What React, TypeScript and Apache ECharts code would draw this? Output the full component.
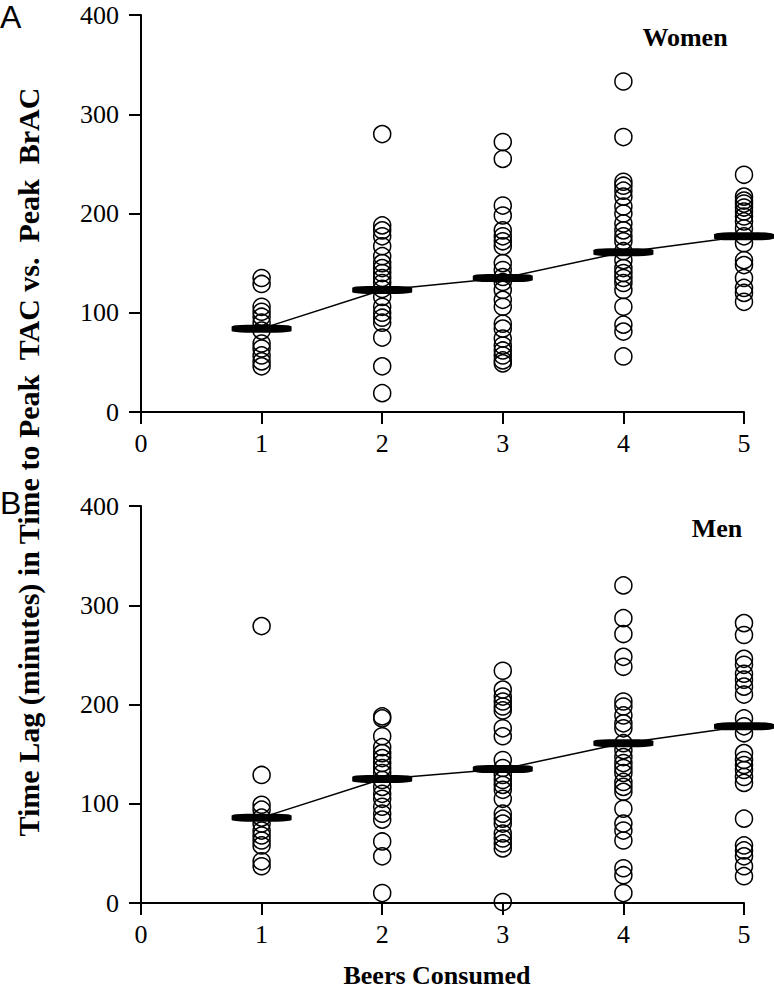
import React, { useEffect, useRef } from "react";
import * as echarts from "echarts";

const beerTicks = [0, 1, 2, 3, 4, 5];
const yTicks = [0, 100, 200, 300, 400];

// Women (panel A)
const women1 = [135, 129, 106, 101, 96, 90, 82, 69, 64, 57, 51, 46];
const women2 = [280, 188, 183, 177, 167, 157, 150, 145, 140, 135, 130, 124, 116, 106, 100, 95, 90, 75, 46, 19];
const women3 = [272, 255, 208, 198, 183, 177, 172, 167, 150, 143, 136, 131, 123, 113, 106, 89, 84, 74, 67, 62, 57, 52, 49];
const women4 = [333, 277, 232, 228, 223, 217, 207, 200, 190, 183, 177, 172, 162, 153, 145, 140, 135, 130, 123, 106, 88, 81, 56];
const women5 = [239, 217, 213, 210, 206, 202, 197, 192, 185, 177, 170, 153, 148, 135, 125, 120, 111];
const womenMeans = [84, 123, 135, 161, 177];

// Men (panel B)
const men1 = [279, 129, 99, 94, 86, 80, 73, 68, 63, 58, 42, 37];
const men2 = [188, 186, 168, 157, 151, 146, 141, 136, 131, 124, 117, 110, 105, 97, 90, 84, 62, 47, 10];
const men3 = [234, 215, 208, 203, 198, 194, 176, 168, 144, 136, 129, 124, 119, 114, 105, 90, 85, 80, 70, 65, 60, 55, 1];
const men4 = [320, 287, 271, 248, 238, 203, 198, 189, 181, 176, 161, 154, 147, 141, 136, 131, 122, 117, 112, 95, 80, 73, 63, 35, 28, 10];
const men5 = [282, 270, 246, 240, 231, 225, 218, 210, 186, 178, 171, 151, 144, 139, 134, 127, 121, 85, 58, 53, 47, 37, 27];
const menMeans = [86, 125, 135, 161, 178];

const womenGroups = [women1, women2, women3, women4, women5];
const menGroups = [men1, men2, men3, men4, men5];

const SERIF = "Liberation Serif";
const SANS = "Liberation Sans";

function toPoints(groups: number[][]) {
  const pts: number[][] = [];
  groups.forEach((g, i) => g.forEach((v) => pts.push([i + 1, v])));
  return pts;
}

function meanPoints(means: number[]) {
  return means.map((m, i) => [i + 1, m]);
}

export default function App() {
  const ref = useRef<HTMLDivElement>(null);

  useEffect(() => {
    document.body.style.margin = "0";
    if (!ref.current) return;
    const chart = echarts.init(ref.current, null, { renderer: "svg" });

    const axisLine = { show: true, lineStyle: { color: "#000", width: 2 } };
    const axisTick = { show: true, inside: false, length: 12, lineStyle: { color: "#000", width: 2 } };
    const tickLabel = (margin: number) => ({
      color: "#000",
      fontFamily: SERIF,
      fontStyle: "normal",
      fontWeight: "normal",
      fontSize: 26,
      margin,
      textStyle: { fontFamily: SERIF },
    });

    const xAxisBase = (gridIndex: number) => ({
      type: "value",
      gridIndex,
      min: beerTicks[0],
      max: beerTicks[beerTicks.length - 1],
      interval: 1,
      axisLine,
      axisTick,
      splitLine: { show: false },
      axisLabel: tickLabel(18),
    });
    const yAxisBase = (gridIndex: number) => ({
      type: "value",
      gridIndex,
      min: yTicks[0],
      max: yTicks[yTicks.length - 1],
      interval: 100,
      axisLine,
      axisTick,
      splitLine: { show: false },
      axisLabel: tickLabel(22),
    });

    const circleSeries = (groups: number[][], idx: number) => ({
      type: "scatter",
      xAxisIndex: idx,
      yAxisIndex: idx,
      data: toPoints(groups),
      symbol: "circle",
      symbolSize: 17,
      clip: false,
      z: 4,
      itemStyle: { color: "rgba(0,0,0,0)", borderColor: "#000", borderWidth: 1.5, opacity: 1 },
      emphasis: { disabled: true },
    });
    const meanLine = (means: number[], idx: number) => ({
      type: "line",
      xAxisIndex: idx,
      yAxisIndex: idx,
      data: meanPoints(means),
      symbol: "none",
      z: 2,
      lineStyle: { color: "#000", width: 1.5 },
    });
    const meanBars = (means: number[], idx: number) => ({
      type: "scatter",
      xAxisIndex: idx,
      yAxisIndex: idx,
      data: meanPoints(means),
      symbol: "roundRect",
      symbolSize: [60, 8],
      clip: false,
      z: 5,
      itemStyle: { color: "#000", opacity: 1 },
      emphasis: { disabled: true },
    });

    const label = (text: string, x: number, y: number, size: number, family: string, weight: string, align = "center") => ({
      type: "text",
      x,
      y,
      z: 10,
      style: {
        text,
        fontSize: size,
        fontFamily: family,
        fontWeight: weight,
        fill: "#000",
        align,
        verticalAlign: "middle",
      },
    });

    chart.setOption({
      animation: false,
      backgroundColor: "#fff",
      textStyle: { fontFamily: SERIF },
      grid: [
        { left: 141, top: 15, width: 603, height: 397 },
        { left: 141, top: 506, width: 603, height: 397 },
      ],
      xAxis: [xAxisBase(0), xAxisBase(1)],
      yAxis: [yAxisBase(0), yAxisBase(1)],
      series: [
        meanLine(womenMeans, 0),
        meanBars(womenMeans, 0),
        circleSeries(womenGroups, 0),
        meanLine(menMeans, 1),
        meanBars(menMeans, 1),
        circleSeries(menGroups, 1),
      ],
      graphic: [
        label("A", 0, 17, 32, SANS, "normal", "left"),
        label("B", 0, 503, 32, SANS, "normal", "left"),
        label("Women", 685, 37, 26, SERIF, "bold"),
        label("Men", 717, 528, 26, SERIF, "bold"),
        label("Beers Consumed", 437, 975, 26, SERIF, "bold"),
        {
          ...label("Time Lag (minutes) in Time to Peak  TAC vs.  Peak  BrAC", 28, 462, 30, SERIF, "bold"),
          rotation: Math.PI / 2,
        },
      ],
    });

    return () => chart.dispose();
  }, []);

  return <div ref={ref} style={{ width: 774, height: 990 }} />;
}
